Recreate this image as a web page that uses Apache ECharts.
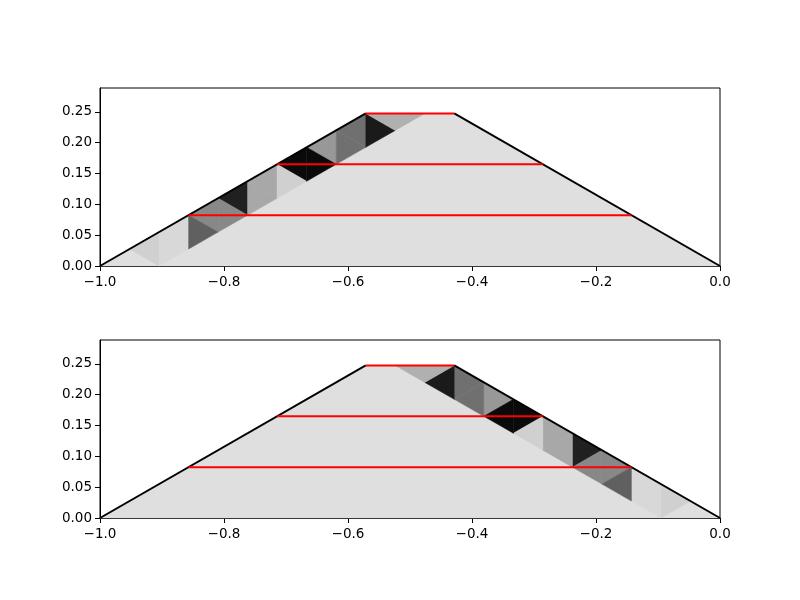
<!DOCTYPE html>
<html>
<head>
<meta charset="utf-8">
<script src="https://cdn.jsdelivr.net/npm/echarts@6/dist/echarts.min.js"></script>
<style>html,body{margin:0;padding:0;background:#fff}#c{width:800px;height:600px}</style>
</head>
<body>
<div id="c"></div>
<script>
// ---- data (data-space values) ----
const xTicks = [-1.0, -0.8, -0.6, -0.4, -0.2, 0.0];
const yTicks = [0.00, 0.05, 0.10, 0.15, 0.20, 0.25];
const yMax = 0.2887;

// trapezoid outline (top panel); bottom panel is its mirror image
const outline = [[-1.0, 0.0], [-0.5714, 0.2474], [-0.4286, 0.2474], [0.0, 0.0]];
const leftEdge = [[-1.0, 0.0], [-0.5714, 0.2474]];
const rightEdge = [[-0.4286, 0.2474], [0.0, 0.0]];

// red horizontal levels: [y, xStart, xEnd]
const redLevels = [
  [0.0825, -0.8571, -0.1429],
  [0.1650, -0.7143, -0.2857],
  [0.2474, -0.5714, -0.4286]
];

const backgroundShade = 0xdf;

// shaded triangles along the sloped edge (top panel)
const triVerts = [
  [[-0.9524, 0.0275], [-0.9048, 0.0550], [-0.9048, 0.0000]],
  [[-0.9048, 0.0550], [-0.8571, 0.0825], [-0.8571, 0.0275]],
  [[-0.9048, 0.0550], [-0.8571, 0.0275], [-0.9048, 0.0000]],
  [[-0.8571, 0.0825], [-0.8095, 0.1100], [-0.8095, 0.0550]],
  [[-0.8571, 0.0825], [-0.8095, 0.0550], [-0.8571, 0.0275]],
  [[-0.8095, 0.1100], [-0.7619, 0.1375], [-0.7619, 0.0825]],
  [[-0.8095, 0.1100], [-0.7619, 0.0825], [-0.8095, 0.0550]],
  [[-0.7619, 0.1375], [-0.7143, 0.1650], [-0.7143, 0.1100]],
  [[-0.7619, 0.1375], [-0.7143, 0.1100], [-0.7619, 0.0825]],
  [[-0.7143, 0.1650], [-0.6667, 0.1924], [-0.6667, 0.1375]],
  [[-0.7143, 0.1650], [-0.6667, 0.1375], [-0.7143, 0.1100]],
  [[-0.6667, 0.1924], [-0.6190, 0.2199], [-0.6190, 0.1650]],
  [[-0.6667, 0.1924], [-0.6190, 0.1650], [-0.6667, 0.1375]],
  [[-0.6190, 0.2199], [-0.5714, 0.2474], [-0.5714, 0.1924]],
  [[-0.6190, 0.2199], [-0.5714, 0.1924], [-0.6190, 0.1650]],
  [[-0.5714, 0.2474], [-0.5238, 0.2199], [-0.5714, 0.1924]],
  [[-0.5714, 0.2474], [-0.4762, 0.2474], [-0.5238, 0.2199]]
];
const triShades = [
  0xd0, 0xd8, 0xd8, 0x88, 0x60, 0x20, 0x88, 0xa8, 0xa8,
  0x0a, 0xd0, 0x98, 0x0a, 0x70, 0x70, 0x1a, 0xb0
];

// ---- build ----
function gray(v) { const h = v.toString(16).padStart(2, '0'); return '#' + h + h + h; }
function mirror(p) { return [-1 - p[0], p[1]]; }
function fmtX(v) { return (Math.abs(v) < 1e-9 ? '0.0' : v.toFixed(1)).replace('-', '\u2212'); }
function fmtY(v) { return v.toFixed(2).replace('-', '\u2212'); }

const grids = [
  { left: 100, top: 88, width: 620, height: 178, show: true, borderColor: '#000', borderWidth: 1, backgroundColor: 'transparent' },
  { left: 100, top: 340, width: 620, height: 178, show: true, borderColor: '#000', borderWidth: 1, backgroundColor: 'transparent' }
];
function xAx(i) {
  return {
    type: 'value', gridIndex: i, min: -1, max: 0, interval: 0.2,
    axisLine: { show: true, onZero: false, lineStyle: { color: '#000', width: 1 } },
    axisTick: { show: true, length: 5, customValues: xTicks, lineStyle: { color: '#000', width: 1 } },
    axisLabel: { customValues: xTicks, formatter: fmtX, color: '#000', fontSize: 13.5, fontFamily: 'DejaVu Sans', margin: 9 },
    splitLine: { show: false }
  };
}
function yAx(i) {
  return {
    type: 'value', gridIndex: i, min: 0, max: yMax, interval: 0.05,
    axisLine: { show: true, onZero: false, lineStyle: { color: '#000', width: 1 } },
    axisTick: { show: true, length: 5, customValues: yTicks, lineStyle: { color: '#000', width: 1 } },
    axisLabel: { customValues: yTicks, formatter: fmtY, color: '#000', fontSize: 13.5, fontFamily: 'DejaVu Sans', margin: 8 },
    splitLine: { show: false }
  };
}

function polySeries(i, polys, colors, z) {
  return {
    type: 'custom', xAxisIndex: i, yAxisIndex: i, z: z, silent: true, animation: false,
    data: polys.map((p, k) => ({ value: [k], pts: p })),
    renderItem: function (params, api) {
      const idx = params.dataIndex;
      const pts = polys[idx].map(q => api.coord(q));
      return { type: 'polygon', shape: { points: pts }, style: { fill: colors[idx], stroke: colors[idx], lineWidth: 0.5 } };
    }
  };
}
function lineSeries(i, pts, color, z) {
  return {
    type: 'line', xAxisIndex: i, yAxisIndex: i, z: z, data: pts, symbol: 'none', silent: true, animation: false,
    lineStyle: { color: color, width: 2 }
  };
}

const series = [];
[0, 1].forEach(function (i) {
  const f = i === 0 ? (p => p) : mirror;
  series.push(polySeries(i, [outline.map(f)], [gray(backgroundShade)], 1));
  series.push(polySeries(i, triVerts.map(t => t.map(f)), triShades.map(gray), 2));
  series.push(lineSeries(i, leftEdge.map(f), '#000', 3));
  series.push(lineSeries(i, rightEdge.map(f), '#000', 3));
  redLevels.forEach(function (r) {
    series.push(lineSeries(i, [[r[1], r[0]], [r[2], r[0]]], '#ff0000', 4));
  });
});

const chart = echarts.init(document.getElementById('c'), null, { renderer: 'canvas' });
chart.setOption({
  animation: false,
  backgroundColor: '#fff',
  grid: grids,
  xAxis: [xAx(0), xAx(1)],
  yAxis: [yAx(0), yAx(1)],
  series: series
});
</script>
</body>
</html>
